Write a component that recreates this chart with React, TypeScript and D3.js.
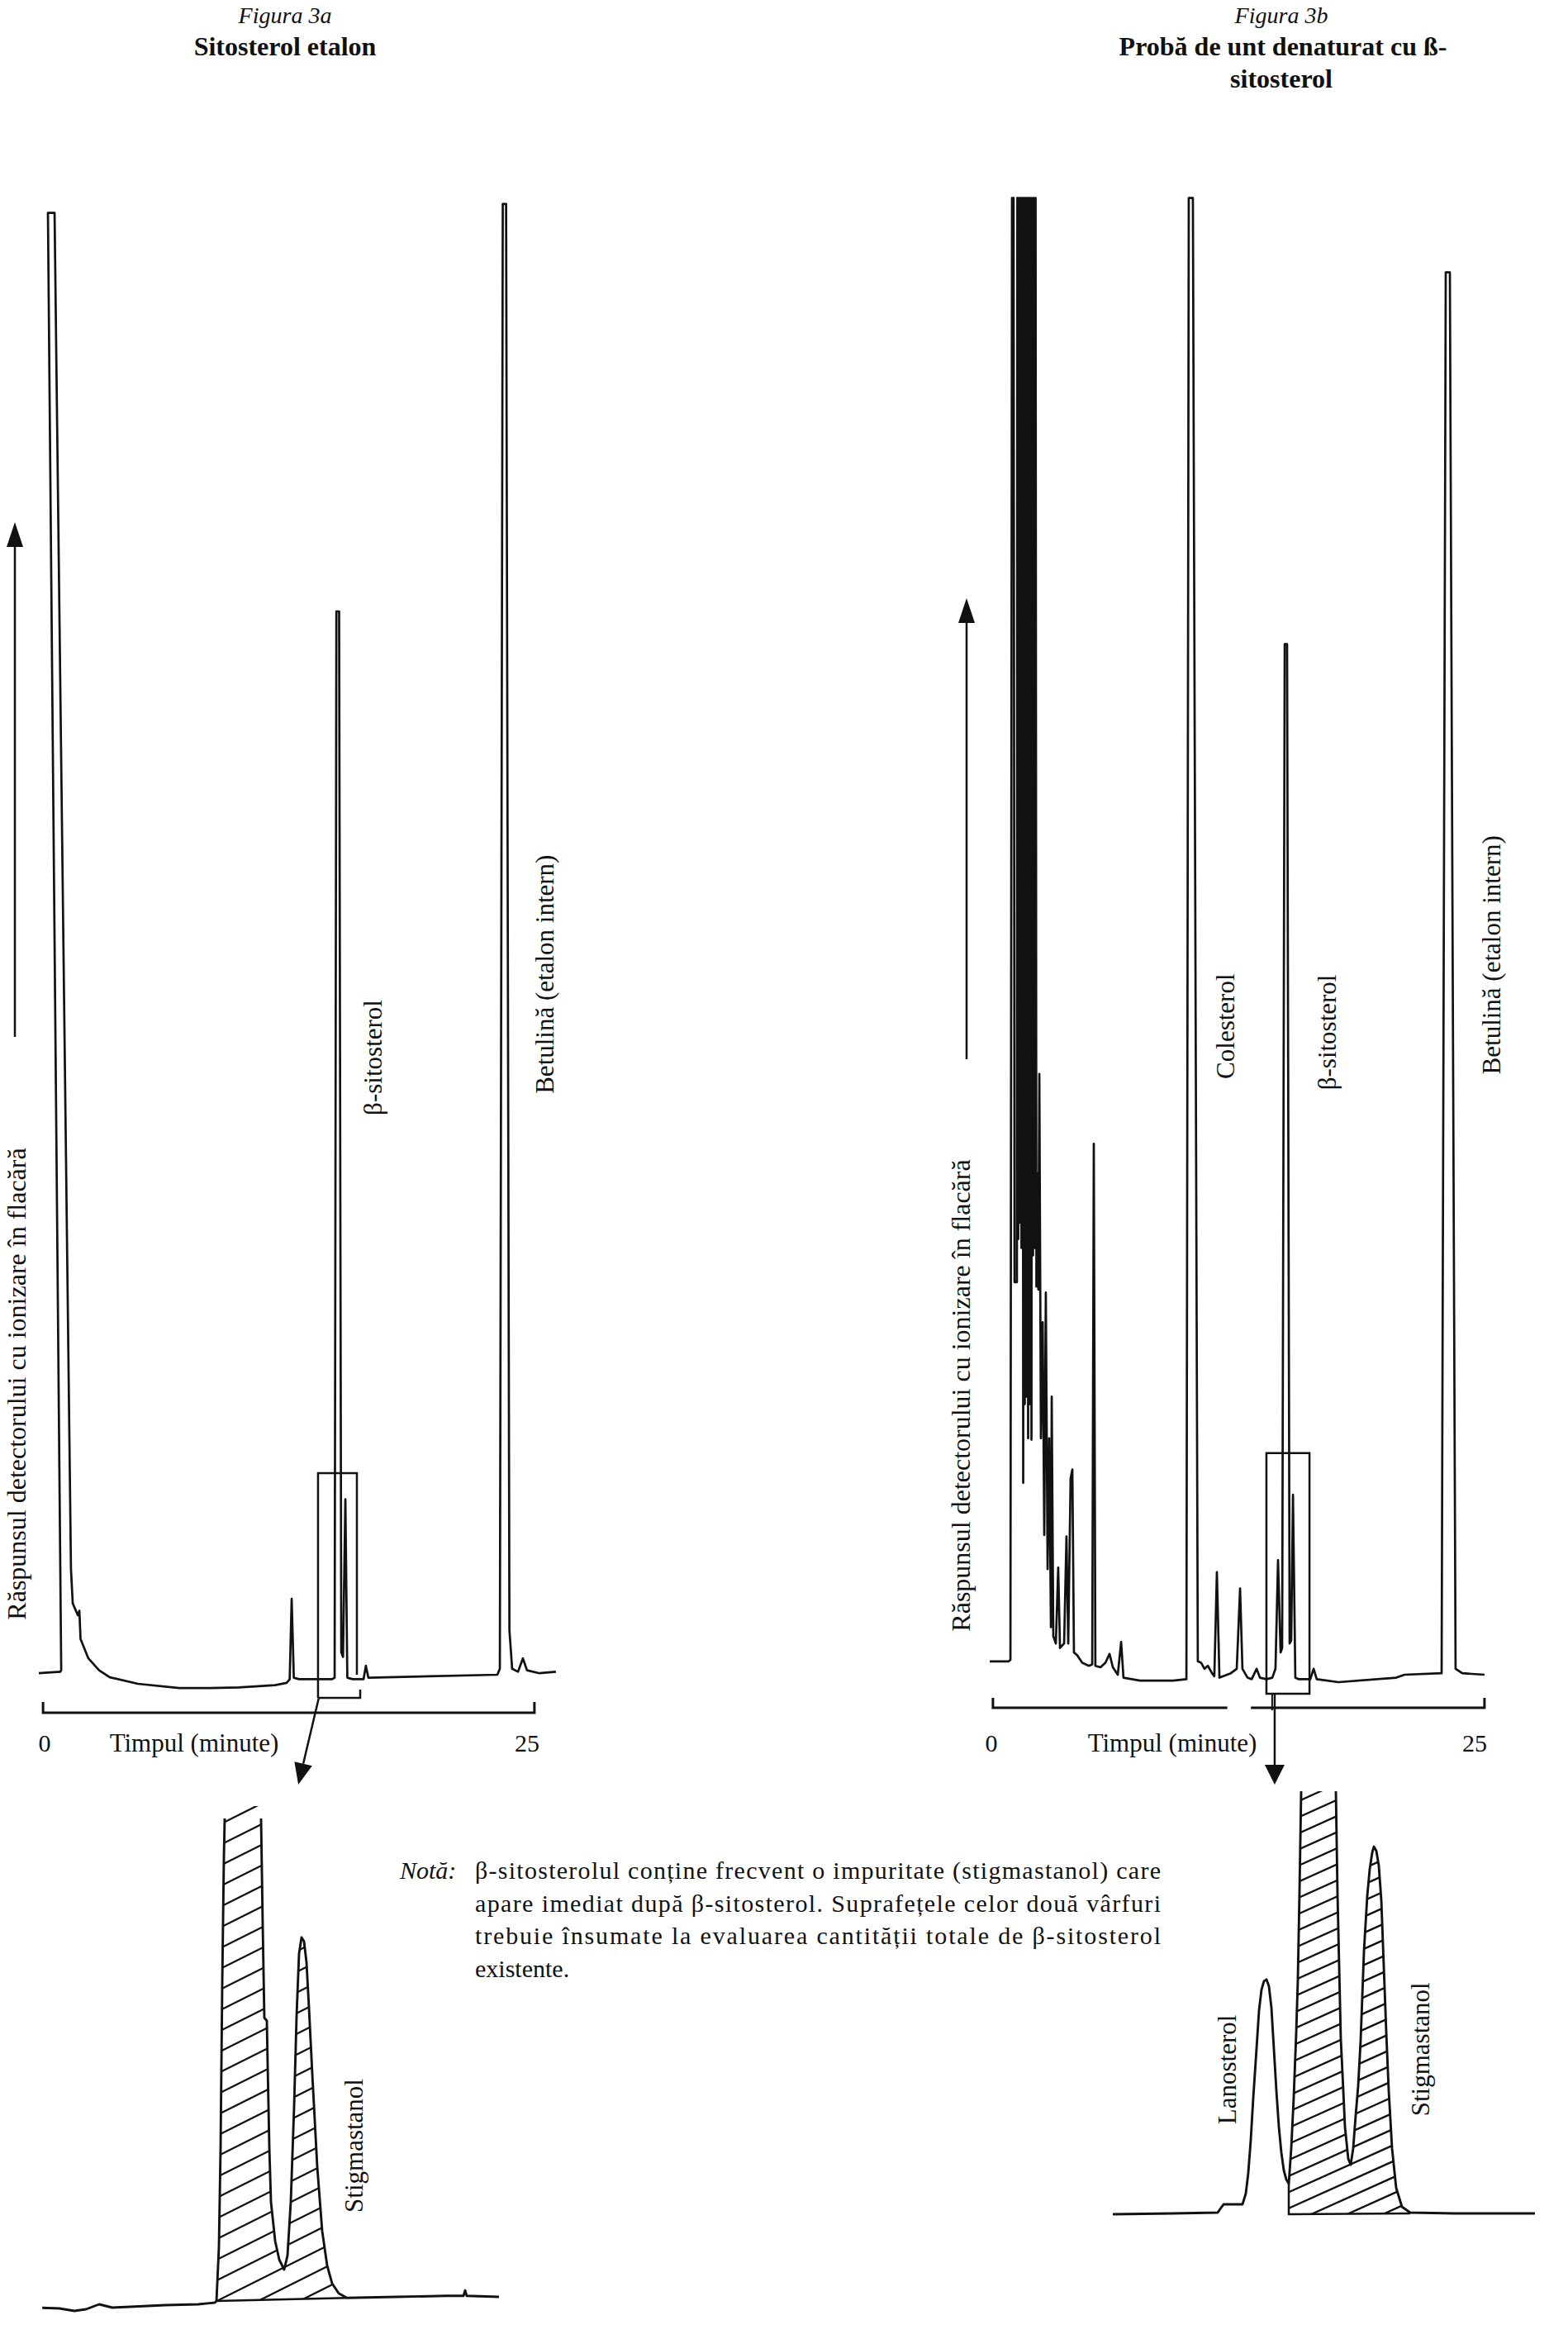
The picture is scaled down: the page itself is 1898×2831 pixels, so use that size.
import React from 'react';
import * as d3 from 'd3';

type P = [number, number];

const FONT = '"Liberation Serif", "Times New Roman", Times, serif';

// ---------------- titles / texts ----------------
const titleA = ['Figura 3a', 'Sitosterol etalon'];
const titleB = ['Figura 3b', 'Probă de unt denaturat cu ß-', 'sitosterol'];
const yAxisLabel = 'Răspunsul detectorului cu ionizare în flacără';
const xAxisLabel = 'Timpul (minute)';
const timeTicks = [0, 25];
const noteLabel = 'Notă:';
const noteLines = [
  'β-sitosterolul conține frecvent o impuritate (stigmastanol) care',
  'apare imediat după β-sitosterol. Suprafețele celor două vârfuri',
  'trebuie însumate la evaluarea cantității totale de β-sitosterol',
  'existente.',
];

// ---------------- chromatogram 3a : [time (min), response (% full scale)] ----------------
const trace3a: P[] = [
  [-0.30, 1.1], [0.80, 1.2], [0.85, 1.3], [0.17, 99.3], [0.51, 99.3], [1.35, 8.1], [1.44, 5.8],
  [1.70, 5.0], [1.78, 5.3], [1.84, 3.4], [2.24, 2.1], [2.79, 1.3], [3.34, 0.83], [4.78, 0.39],
  [6.9, 0.1], [8.3, 0.1], [9.94, 0.15], [11.80, 0.3], [12.39, 0.45],
  [12.55, 0.7], [12.65, 6.1], [12.76, 0.8], [13.03, 0.7], [14.72, 0.7], [14.85, 0.8],
  [14.94, 72.5], [15.08, 72.5], [15.19, 2.5], [15.28, 2.2], [15.40, 12.8], [15.50, 0.8],
  [15.78, 0.7], [16.33, 0.7], [16.45, 1.6], [16.58, 0.8], [23.18, 1.0], [23.31, 1.4],
  [23.46, 99.9], [23.63, 99.9], [23.80, 4.0], [23.94, 1.4], [24.24, 1.2], [24.49, 2.1],
  [24.70, 1.3], [25.34, 1.1], [26.18, 1.2],
];
const peakLabels3a = [
  { text: 'β-sitosterol', t: 16.8, r: 42.5 },
  { text: 'Betulină (etalon intern)', t: 25.6, r: 48.1 },
];

// ---------------- chromatogram 3b ----------------
const trace3b: P[] = [
  [-0.08, 1.9], [0.88, 1.9], [0.97, 2.0], [1.05, 100.3], [1.13, 100.3], [1.18, 27.4], [1.30, 27.4],
  [1.32, 100.3], [1.37, 30.3], [1.41, 100.3], [1.45, 31.4], [1.49, 100.3], [1.53, 29.7],
  [1.58, 100.3], [1.62, 13.9], [1.66, 100.3], [1.70, 19.2], [1.74, 100.3], [1.79, 19.7],
  [1.83, 100.3], [1.87, 16.9], [1.91, 100.3], [1.95, 19.2], [2.00, 100.3], [2.04, 16.8],
  [2.08, 100.3], [2.12, 29.2], [2.16, 100.3], [2.21, 29.7], [2.25, 100.3], [2.29, 27.1],
  [2.35, 34.7], [2.39, 26.9], [2.44, 41.4], [2.52, 16.9], [2.61, 24.7], [2.69, 10.4], [2.77, 26.7],
  [2.86, 8.1], [2.94, 16.9], [3.03, 4.2], [3.07, 19.7], [3.15, 3.6], [3.28, 3.1], [3.40, 8.2],
  [3.49, 2.8], [3.70, 3.1], [3.82, 10.3], [3.91, 3.1], [4.03, 14.2], [4.12, 14.8], [4.20, 2.5],
  [4.37, 2.3], [4.62, 1.8], [4.96, 1.6], [5.13, 1.7], [5.21, 36.7], [5.29, 1.6], [5.55, 1.5],
  [5.80, 1.8], [6.01, 2.4], [6.18, 1.5], [6.43, 1.0], [6.60, 3.2], [6.72, 0.8], [7.56, 0.6],
  [9.24, 0.6], [9.92, 0.7], [10.04, 100.3], [10.25, 100.3], [10.50, 1.9], [10.67, 1.8],
  [10.84, 1.4], [11.01, 1.6], [11.22, 1.1], [11.34, 0.9], [11.47, 7.9], [11.60, 0.8],
  [12.18, 1.1], [12.48, 1.4], [12.65, 6.8], [12.77, 1.4], [13.03, 0.8], [13.24, 0.7],
  [13.49, 1.4], [13.66, 0.8], [13.99, 0.7], [14.29, 0.8], [14.45, 1.4], [14.58, 8.7],
  [14.71, 2.5], [14.79, 2.8], [14.92, 70.3], [15.04, 70.3], [15.17, 3.1], [15.25, 3.3],
  [15.34, 13.1], [15.46, 0.8], [15.63, 0.7], [16.22, 0.7], [16.39, 1.4], [16.55, 0.7],
  [17.65, 0.5], [20.59, 0.8], [21.01, 1.0], [22.90, 1.1], [23.11, 95.3], [23.32, 95.3],
  [23.61, 1.4], [23.95, 1.1], [25.08, 1.0],
];
const peakLabels3b = [
  { text: 'Colesterol', t: 11.93, r: 44.6 },
  { text: 'β-sitosterol', t: 17.1, r: 44.2 },
  { text: 'Betulină (etalon intern)', t: 25.46, r: 49.4 },
];

// ---------------- inset 3a (enlarged β-sitosterol / stigmastanol), relative units ----------------
const insetA_base1: P[] = [
  [0.2, 0.3], [3.93, 0.17], [7.14, -0.33], [9.64, 0], [12.5, 1.0], [15.36, 0.33], [26.79, 0.83], [33.93, 1.0], [37.5, 1.33],
];
const insetA_up: P[] = [
  [37.86, 1.67], [38.39, 12.5], [38.75, 32.5], [39.11, 65.8], [39.46, 90.8], [39.64, 99],
];
const insetA_down: P[] = [
  [47.5, 99], [47.86, 77.5], [48.21, 58.8], [48.75, 58.2], [48.93, 49.2], [49.29, 32.5],
  [49.64, 21.7], [50.54, 13.8], [51.43, 10], [52.5, 8], [53.21, 10.8], [53.93, 21.7],
  [54.64, 40.8], [55.18, 59.2], [55.71, 71.7], [56.25, 75], [56.79, 74.2], [57.32, 70],
  [57.86, 60.8], [58.57, 47.5], [59.64, 28.8], [60.71, 15.8], [61.79, 8.8], [62.86, 5.2],
  [64.29, 3.2], [66.07, 2.3],
];
const insetA_base2: P[] = [
  [66.07, 2.3], [76.79, 2.5], [87.5, 2.7], [91.25, 2.7], [91.61, 3.8], [91.96, 2.7], [98.93, 2.5],
];
const insetA_labels = [{ text: 'Stigmastanol', u: 67.5, v: 33 }];

// ---------------- inset 3b (lanosterol / β-sitosterol / stigmastanol) ----------------
const insetB_base1: P[] = [
  [0.39, 0], [14.56, 0.2], [25.05, 0.39], [25.83, 1.56], [26.41, 2.34], [30.87, 2.34], [31.65, 4.88],
  [32.23, 9.77], [32.82, 17.6], [33.4, 27.5], [34.17, 39.1], [34.76, 48.2], [35.34, 53.1],
  [35.92, 55.1], [36.5, 55.5], [37.09, 53.9], [37.67, 48.8], [38.25, 39.1], [38.83, 29.3],
  [39.42, 20.7], [40.0, 14.6], [40.58, 10.4], [41.17, 8.2],
];
const insetB_up: P[] = [
  [41.75, 7.2], [42.33, 15.6], [42.91, 27.5], [43.5, 43], [43.88, 55.3], [44.27, 76.2], [44.66, 100],
];
const insetB_down: P[] = [
  [52.82, 100], [53.2, 76], [53.59, 58.6], [53.98, 41.4], [54.56, 29.3], [54.95, 20.7],
  [55.73, 13.1], [56.31, 11.7], [56.89, 15.6], [57.48, 23.4], [58.06, 30.3], [58.64, 41],
  [59.42, 62.1], [60.19, 75.2], [60.78, 81.6], [61.36, 85.5], [61.75, 86.9], [62.33, 85.9],
  [62.91, 82.4], [63.5, 74.2], [64.08, 58.6], [64.66, 43], [65.24, 29.3], [66.02, 15.6],
  [66.99, 6.25], [68.35, 1.76], [70.29, 0.39],
];
const insetB_base2: P[] = [[70.29, 0.39], [80.58, 0.2], [99.61, 0.2]];
const insetB_labels = [
  { text: 'Lanosterol', u: 27.2, v: 34.2 },
  { text: 'Stigmastanol', u: 72.8, v: 39 },
];

function arrowHead(x1: number, y1: number, x2: number, y2: number, len = 26, hw = 11) {
  const dx = x2 - x1, dy = y2 - y1, L = Math.hypot(dx, dy);
  const ux = dx / L, uy = dy / L;
  const bx = x2 - ux * len, by = y2 - uy * len;
  return {
    head: `M${x2},${y2}L${bx - uy * hw},${by + ux * hw}L${bx + uy * hw},${by - ux * hw}Z`,
    bx, by,
  };
}

function hatchLines(x0: number, x1: number, yStart: number, yEnd: number, step: number, slope: number) {
  const out: string[] = [];
  for (let y = yStart; y <= yEnd; y += step) {
    out.push(`M${x0},${y}L${x1},${y - slope * (x1 - x0)}`);
  }
  return out;
}

export default function App() {
  const W = 1898, H = 2831;
  const xA = d3.scaleLinear().domain([0, 25]).range([54, 645]);
  const xB = d3.scaleLinear().domain([0, 25]).range([1200, 1795]);
  const yR = d3.scaleLinear().domain([0, 100]).range([2045, 245]);

  const lineA = d3.line<P>().x(d => xA(d[0])).y(d => yR(d[1]));
  const lineB = d3.line<P>().x(d => xB(d[0])).y(d => yR(d[1]));

  const ixA = d3.scaleLinear().domain([0, 100]).range([50, 610]);
  const iyA = d3.scaleLinear().domain([0, 100]).range([2795, 2195]);
  const ixB = d3.scaleLinear().domain([0, 100]).range([1345, 1860]);
  const iyB = d3.scaleLinear().domain([0, 100]).range([2680, 2168]);
  const liA = d3.line<P>().x(d => ixA(d[0])).y(d => iyA(d[1]));
  const liB = d3.line<P>().x(d => ixB(d[0])).y(d => iyB(d[1]));

  const stroke = '#111';
  const sw = 2.7;

  const bracketA = `M${xA(-0.08)},${yR(-0.83)}V${yR(-1.56)}H${xA(25.08)}V${yR(-0.83)}`;
  const bracketB1 = `M${xB(0.08)},${yR(-0.55)}V${yR(-1.22)}H${xB(12.0)}`;
  const bracketB2 = `M${xB(13.2)},${yR(-1.22)}H${xB(25.08)}V${yR(-0.55)}`;

  const boxA = `M${xA(14.0)},${yR(-0.56)}V${yR(14.56)}H${xA(15.99)}V${yR(1.0)}`;
  const boxA2 = `M${xA(14.04)},${yR(-0.56)}H${xA(16.16)}V${yR(0)}`;
  const arrA = arrowHead(xA(14.04), yR(-0.56), xA(12.99), yR(-6.39), 26, 11);
  const boxB = `M${xB(13.99)},${yR(15.9)}H${xB(16.18)}V${yR(-0.28)}H${xB(13.99)}Z`;
  const arrB = arrowHead(xB(14.41), yR(-0.28), xB(14.41), yR(-6.39), 24, 12);

  const yArrA = arrowHead(18, 1255, 18, 632, 30, 10);
  const yArrB = arrowHead(1170, 1282, 1170, 724, 30, 10);

  const hatchPolyA = liA([...insetA_up, [39.64, 101.5], [47.5, 101.5], ...insetA_down] as P[]) + 'Z';
  const hatchPolyB = liB([[41.75, 0], ...insetB_up, ...insetB_down, [70.29, 0]] as P[]) + 'Z';
  const hA = hatchLines(ixA(34), ixA(70), iyA(104), iyA(-20), 25, 0.5);
  const hB = hatchLines(ixB(39), ixB(73), iyB(103), iyB(-25), 19.5, 0.45);

  const txt = (props: any, s: string) => (
    <text fontFamily={FONT} fill="#111" {...props}>{s}</text>
  );
  const LBL = 31;

  return (
    <svg width={W} height={H} style={{ position: 'absolute', left: 0, top: 0, background: '#fff' }}>
      <rect x={0} y={0} width={W} height={H} fill="#fff" />
      <defs>
        <clipPath id="hatchA"><path d={hatchPolyA} /></clipPath>
        <clipPath id="hatchB"><path d={hatchPolyB} /></clipPath>
      </defs>

      {/* Titles */}
      {txt({ x: 345, y: 28, fontSize: 28, fontStyle: 'italic', textAnchor: 'middle' }, titleA[0])}
      {txt({ x: 345, y: 67, fontSize: 32, fontWeight: 'bold', textAnchor: 'middle' }, titleA[1])}
      {txt({ x: 1551, y: 28, fontSize: 28, fontStyle: 'italic', textAnchor: 'middle' }, titleB[0])}
      {txt({ x: 1553, y: 67, fontSize: 32, fontWeight: 'bold', textAnchor: 'middle' }, titleB[1])}
      {txt({ x: 1551, y: 106, fontSize: 32, fontWeight: 'bold', textAnchor: 'middle' }, titleB[2])}

      {/* Chromatogram 3a */}
      <path d={lineA(trace3a) || ''} fill="none" stroke={stroke} strokeWidth={sw} strokeLinejoin="round" />
      <path d={bracketA} fill="none" stroke={stroke} strokeWidth={3} />
      <path d={boxA} fill="none" stroke={stroke} strokeWidth={2.5} />
      <path d={boxA2} fill="none" stroke={stroke} strokeWidth={2.5} />
      <line x1={xA(14.04)} y1={yR(-0.56)} x2={arrA.bx} y2={arrA.by} stroke={stroke} strokeWidth={2.5} />
      <path d={arrA.head} fill="#111" />
      <line x1={18} y1={1255} x2={yArrA.bx} y2={yArrA.by} stroke={stroke} strokeWidth={2.5} />
      <path d={yArrA.head} fill="#111" />
      {txt({ transform: 'translate(20,1675) rotate(-90)', fontSize: 32, textAnchor: 'middle', dominantBaseline: 'central' }, yAxisLabel)}
      {timeTicks.map((t, i) => txt({ key: 'ta' + t, x: xA(t) - (i ? 7 : 0), y: 2120, fontSize: 30, textAnchor: 'middle' }, String(t)))}
      {txt({ x: 235, y: 2120, fontSize: 31, textAnchor: 'middle' }, xAxisLabel)}
      {peakLabels3a.map(l => txt({ key: l.text, transform: `translate(${xA(l.t)},${yR(l.r)}) rotate(-90)`, fontSize: LBL, textAnchor: 'middle', dominantBaseline: 'central' }, l.text))}

      {/* Chromatogram 3b */}
      <path d={lineB(trace3b) || ''} fill="none" stroke={stroke} strokeWidth={sw} strokeLinejoin="round" />
      <path d={bracketB1} fill="none" stroke={stroke} strokeWidth={3} />
      <path d={bracketB2} fill="none" stroke={stroke} strokeWidth={3} />
      <path d={boxB} fill="none" stroke={stroke} strokeWidth={2.5} />
      <line x1={xB(14.28)} y1={yR(-0.28)} x2={xB(14.28)} y2={yR(-1.4)} stroke={stroke} strokeWidth={2} />
      <line x1={xB(14.41)} y1={yR(-0.28)} x2={arrB.bx} y2={arrB.by} stroke={stroke} strokeWidth={2.5} />
      <path d={arrB.head} fill="#111" />
      <line x1={1170} y1={1282} x2={yArrB.bx} y2={yArrB.by} stroke={stroke} strokeWidth={2.5} />
      <path d={yArrB.head} fill="#111" />
      {txt({ transform: 'translate(1163,1689) rotate(-90)', fontSize: 32, textAnchor: 'middle', dominantBaseline: 'central' }, yAxisLabel)}
      {timeTicks.map((t, i) => txt({ key: 'tb' + t, x: xB(t) - (i ? 10 : 0), y: 2120, fontSize: 30, textAnchor: 'middle' }, String(t)))}
      {txt({ x: 1419, y: 2120, fontSize: 31, textAnchor: 'middle' }, xAxisLabel)}
      {peakLabels3b.map(l => txt({ key: l.text, transform: `translate(${xB(l.t)},${yR(l.r)}) rotate(-90)`, fontSize: LBL, textAnchor: 'middle', dominantBaseline: 'central' }, l.text))}

      {/* Inset 3a */}
      <g clipPath="url(#hatchA)">
        {hA.map((d, i) => <path key={i} d={d} stroke={stroke} strokeWidth={2.3} fill="none" />)}
      </g>
      <path d={liA([...insetA_base1, ...insetA_up]) || ''} fill="none" stroke={stroke} strokeWidth={2.9} strokeLinejoin="round" />
      <path d={liA([...insetA_down, ...insetA_base2]) || ''} fill="none" stroke={stroke} strokeWidth={2.9} strokeLinejoin="round" />
      <path d={liA([insetA_up[0], insetA_down[insetA_down.length - 1]]) || ''} fill="none" stroke={stroke} strokeWidth={2.5} />
      {insetA_labels.map(l => txt({ key: l.text, transform: `translate(${ixA(l.u)},${iyA(l.v)}) rotate(-90)`, fontSize: LBL, textAnchor: 'middle', dominantBaseline: 'central' }, l.text))}

      {/* Inset 3b */}
      <g clipPath="url(#hatchB)">
        {hB.map((d, i) => <path key={i} d={d} stroke={stroke} strokeWidth={2.3} fill="none" />)}
      </g>
      <path d={liB([...insetB_base1, ...insetB_up]) || ''} fill="none" stroke={stroke} strokeWidth={2.9} strokeLinejoin="round" />
      <path d={liB([...insetB_down, ...insetB_base2]) || ''} fill="none" stroke={stroke} strokeWidth={2.9} strokeLinejoin="round" />
      <path d={liB([[41.75, 7.2], [41.75, 0], [70.29, 0.2]] as P[]) || ''} fill="none" stroke={stroke} strokeWidth={2.5} />
      {insetB_labels.map(l => txt({ key: l.text, transform: `translate(${ixB(l.u)},${iyB(l.v)}) rotate(-90)`, fontSize: LBL, textAnchor: 'middle', dominantBaseline: 'central' }, l.text))}

      {/* Note */}
      {txt({ x: 484, y: 2274, fontSize: 30, fontStyle: 'italic' }, noteLabel)}
      {noteLines.map((s, i) => txt({
        key: 'n' + i, x: 575, y: 2274 + i * 39.5, fontSize: 30,
        ...(i < 3 ? { textLength: 830, lengthAdjust: 'spacing' } : {}),
      }, s))}
    </svg>
  );
}
